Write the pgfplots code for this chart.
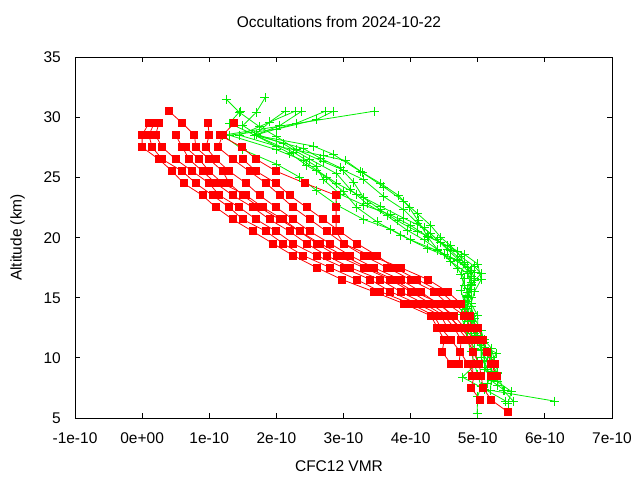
\documentclass[border=0pt]{standalone}
\usepackage{fontspec}
\setmainfont{Liberation Sans}
\usepackage{pgfplots}
\pgfplotsset{compat=1.18}
\definecolor{gr}{RGB}{0,238,0}
\definecolor{rd}{RGB}{255,0,0}
\newcommand{\myfont}{\fontsize{15.5pt}{18pt}\selectfont}
\pgfplotsset{
  redp/.style={rd, line width=0.8pt, mark=square*, mark size=3.5pt, mark options={solid, fill=rd, draw=rd, line width=0pt}},
  grp/.style={gr, line width=0.8pt, mark=+, mark size=4.5pt, mark options={solid, line width=0.9pt}},
}
\begin{document}
\begin{tikzpicture}
\useasboundingbox (-75pt,-62pt) rectangle (565pt,418pt);
\begin{axis}[
  scale only axis, width=537pt, height=361pt,
  xmin=-1, xmax=7, ymin=5, ymax=35,
  xtick={-1,0,1,2,3,4,5,6,7},
  xticklabels={-1e-10,0e+00,1e-10,2e-10,3e-10,4e-10,5e-10,6e-10,7e-10},
  ytick={5,10,15,20,25,30,35},
  minor tick num=0,
  tick align=inside, major tick length=5pt,
  axis line style={black, line width=0.8pt},
  every tick/.style={black, line width=0.8pt},
  /pgf/number format/assume math mode=true,
  tick label style={font=\myfont},
  xticklabel style={anchor=base, yshift=-25.5pt, inner sep=0pt},
  yticklabel style={anchor=base east, xshift=-14pt, yshift=-5.5pt, inner sep=0pt},
  title={Occultations from 2024-10-22},
  title style={font=\myfont, at={(axis description cs:0.4916,1.065)}, anchor=base, inner sep=0pt},
  xlabel={CFC12 VMR},
  xlabel style={font=\myfont, at={(axis description cs:0.4916,-0.148)}, anchor=base, inner sep=0pt},
  ylabel={Altitude (km)},
  ylabel style={font=\myfont, at={(axis description cs:-0.0996,0.5)}, anchor=base, inner sep=0pt},
]
% ---------------- green profiles ----------------
\addplot[grp] coordinates {(2.28,30.5)(1.45,28.5)(2.0,27.6)(2.7,26.8)(3.03,26.4)(3.28,25.4)(3.55,24.5)(3.82,23.5)(3.98,22.5)(4.11,21.4)(4.26,20.0)(4.4,19.0)(4.6,18.0)(4.85,17.0)(4.9,16.0)(4.85,15.0)(4.8,14.0)(4.85,13.0)(4.9,12.0)(5.05,11.0)(5.2,10.0)(5.1,9.0)(5.3,8.0)(5.5,7.2)(5.45,6.2)};
\addplot[grp] coordinates {(1.25,31.5)(1.45,30.4)(1.75,29.2)(2.0,28.4)(2.3,27.3)(2.7,26.3)(3.0,25.6)(3.3,24.8)(3.6,23.4)(3.9,22.3)(4.1,21.2)(4.3,20.3)(4.55,19.0)(4.7,18.2)(4.85,17.2)(4.9,16.3)(4.85,15.2)(4.85,14.1)(4.9,13.1)(4.95,12.0)(5.05,11.0)(5.05,10.0)(5.15,9.0)(5.2,8.1)(5.4,7.3)};
\addplot[grp] coordinates {(1.83,31.6)(1.7,30.4)(1.5,29.3)(1.7,28.6)(2.1,27.8)(2.5,26.5)(2.9,25.3)(3.1,24.0)(3.35,22.8)(3.65,21.8)(3.95,20.6)(4.2,19.8)(4.5,18.6)(4.7,17.4)(4.8,16.6)(4.75,15.6)(4.8,14.6)(4.75,13.6)(4.8,12.6)(4.85,11.5)(4.9,10.5)(4.95,9.5)(5.0,8.6)(5.05,7.6)(5.0,6.8)(4.99,5.4)};
\addplot[grp] coordinates {(2.38,30.5)(2.05,29.3)(1.68,28.5)(2.2,27.0)(2.45,26.0)(2.75,25.0)(3.0,23.8)(3.2,22.5)(3.5,21.3)(3.85,20.2)(4.25,19.1)(4.6,18.3)(4.85,17.5)(4.9,16.8)(4.85,15.8)(4.8,14.8)(4.85,13.8)(4.8,12.8)(4.85,11.8)(4.95,10.8)(5.0,9.6)(4.77,8.4)(5.1,7.4)(5.42,6.4)};
\addplot[grp] coordinates {(2.13,30.5)(1.9,29.6)(1.68,28.5)(2.4,27.4)(2.65,26.6)(2.95,25.8)(3.15,24.6)(3.3,23.3)(3.55,22.3)(3.8,21.4)(4.1,20.5)(4.45,19.6)(4.7,18.8)(4.8,17.8)(4.75,16.9)(4.8,16.0)(4.9,15.0)(4.8,14.0)(4.9,13.0)(5.0,11.9)(5.1,10.9)(5.28,10.4)(5.2,9.5)(5.3,8.7)(5.38,7.3)(5.53,6.4)};
\addplot[grp] coordinates {(2.73,30.5)(2.3,29.5)(1.68,28.5)(2.55,27.6)(2.85,26.9)(3.25,25.5)(3.6,24.2)(3.9,23.0)(4.1,22.0)(4.3,21.0)(4.45,20.0)(4.6,19.3)(4.75,18.4)(4.95,17.6)(5.05,17.0)(4.9,16.1)(4.85,15.1)(4.9,14.3)(4.95,13.3)(5.05,12.3)(5.1,11.3)(5.15,10.2)(5.1,9.2)(5.2,8.2)(5.19,7.3)(6.15,6.4)};
\addplot[grp] coordinates {(2.85,30.5)(2.6,29.8)(2.0,29.0)(1.3,28.5)(2.0,27.3)(2.4,26.4)(2.6,25.6)(2.9,24.5)(3.2,23.6)(3.55,22.6)(3.9,21.6)(4.2,20.8)(4.4,19.8)(4.6,18.9)(4.8,17.9)(4.95,17.1)(4.95,16.4)(4.85,15.4)(4.8,14.4)(4.9,13.4)(4.95,12.4)(5.0,11.4)(5.05,10.6)(5.15,9.7)(5.2,8.9)(5.15,7.9)};
\addplot[grp] coordinates {(1.46,30.5)(1.3,29.5)(1.68,28.5)(2.25,27.1)(2.6,25.9)(2.7,24.8)(2.95,23.6)(3.3,22.7)(3.7,21.9)(4.0,21.0)(4.25,20.1)(4.55,19.3)(4.8,18.6)(5.0,17.8)(5.05,16.5)(4.95,15.5)(4.9,14.5)(5.0,13.5)(5.0,12.5)(5.1,11.5)(5.2,10.8)(5.25,9.8)(5.3,8.8)(5.3,7.7)};
\addplot[grp] coordinates {(3.46,30.5)(1.2,28.5)(1.5,27.3)(2.0,26.1)(2.35,25.0)(2.6,23.9)(2.9,22.7)(3.3,21.5)(3.7,20.7)(4.0,19.8)(4.4,18.9)(4.7,18.1)(4.9,17.3)(4.95,16.6)(4.9,15.7)(4.85,14.7)(4.9,13.7)(4.95,12.7)(5.0,11.7)(5.05,10.7)(5.1,9.8)};
% ---------------- red profiles ----------------
\addplot[redp] coordinates {(0.1,29.5)(0.0,28.5)(0.0,27.5)(0.25,26.5)(0.45,25.5)(0.62,24.5)(0.9,23.5)(1.1,22.5)(1.35,21.5)(1.65,20.5)(1.95,19.5)(2.25,18.5)(2.6,17.5)(2.98,16.5)(3.45,15.5)(3.9,14.5)(4.3,13.5)(4.4,12.5)(4.5,11.5)(4.47,10.5)(4.6,9.5)};
\addplot[redp] coordinates {(0.18,29.5)(0.1,28.5)(0.15,27.5)(0.3,26.5)(0.6,25.5)(0.8,24.5)(1.05,23.5)(1.3,22.5)(1.5,21.5)(1.85,20.5)(2.1,19.5)(2.4,18.5)(2.8,17.5)(3.2,16.5)(3.55,15.5)(4.0,14.5)(4.35,13.5)(4.45,12.5)(4.6,11.5)(4.74,10.5)(4.72,9.5)};
\addplot[redp] coordinates {(0.25,29.5)(0.2,28.5)(0.3,27.5)(0.5,26.5)(0.75,25.5)(1.0,24.5)(1.15,23.5)(1.45,22.5)(1.7,21.5)(2.0,20.5)(2.25,19.5)(2.6,18.5)(3.0,17.5)(3.4,16.5)(3.7,15.5)(4.1,14.5)(4.45,13.5)(4.55,12.5)};
\addplot[redp] coordinates {(0.5,28.5)(0.6,27.5)(0.7,26.5)(0.9,25.5)(1.1,24.5)(1.35,23.5)(1.65,22.5)(1.9,21.5)(2.2,20.5)(2.45,19.5)(2.75,18.5)(3.1,17.5)(3.55,16.5)(3.85,15.5)(4.2,14.5)(4.5,13.5)(4.65,12.5)(4.75,11.5)(4.74,10.5)(4.85,9.5)(4.95,8.5)(4.9,7.5)(5.04,6.5)};
\addplot[redp] coordinates {(0.4,30.5)(0.6,29.5)(0.78,28.5)(0.8,27.5)(1.0,26.5)(1.2,25.5)(1.3,24.5)(1.5,23.5)(1.75,22.5)(2.05,21.5)(2.35,20.5)(2.6,19.5)(2.9,18.5)(3.3,17.5)(3.7,16.5)(4.0,15.5)(4.3,14.5)(4.55,13.5)(4.75,12.5)(4.9,11.5)(4.93,10.5)(5.02,9.5)(5.05,8.5)(5.08,7.5)(5.2,6.5)(5.45,5.5)};
\addplot[redp] coordinates {(0.98,29.5)(1.0,28.5)(0.95,27.5)(1.1,26.5)(1.3,25.5)(1.55,24.5)(1.75,23.5)(2.0,22.5)(2.25,21.5)(2.5,20.5)(2.8,19.5)(3.1,18.5)(3.45,17.5)(3.85,16.5)(4.15,15.5)(4.4,14.5)(4.65,13.5)(4.8,12.5)(4.95,11.5)};
\addplot[redp] coordinates {(1.37,29.5)(1.2,28.5)(1.13,27.5)(1.35,26.5)(1.6,25.5)(1.85,24.5)(2.05,23.5)(2.25,22.5)(2.5,21.5)(2.75,20.5)(3.0,19.5)(3.3,18.5)(3.65,17.5)(4.0,16.5)(4.35,15.5)(4.55,14.5)(4.8,13.5)(4.9,12.5)(5.0,11.5)};
\addplot[redp] coordinates {(1.16,28.5)(1.49,27.5)(1.7,26.5)(2.0,25.5)(2.43,24.5)(2.89,23.5)(2.89,22.5)(2.89,21.5)(2.89,20.5)(3.0,19.5)(3.4,18.5)(3.85,17.5)(4.26,16.5)(4.55,15.5)(4.75,14.5)(4.88,13.5)(5.0,12.5)(5.08,11.5)(5.14,10.5)(5.26,9.5)(5.2,8.5)};
\addplot[redp] coordinates {(0.65,27.5)(0.85,26.5)(1.0,25.5)(1.2,24.5)(1.55,23.5)(1.8,22.5)(2.1,21.5)(2.35,20.5)(2.65,19.5)(3.0,18.5)(3.35,17.5)(3.75,16.5)(4.05,15.5)(4.45,14.5)(4.6,13.5)(4.7,12.5)(4.85,11.5)(4.93,10.5)(4.93,9.5)(4.92,8.5)};
\addplot[redp] coordinates {(1.5,26.5)(1.7,25.5)(2.0,24.5)(2.2,23.5)(2.45,22.5)(2.7,21.5)(2.95,20.5)(3.2,19.5)(3.5,18.5)(3.75,17.5)(4.1,16.5)(4.45,15.5)(4.65,14.5)(4.85,13.5)(4.92,12.5)(5.05,11.5)(5.14,10.5)(5.2,9.5)(5.29,8.5)};
\end{axis}
\end{tikzpicture}
\end{document}
